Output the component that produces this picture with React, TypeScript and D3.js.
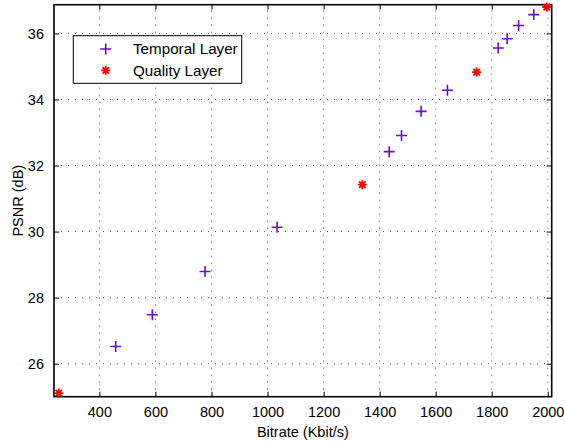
import React, { useEffect, useRef } from "react";
import * as d3 from "d3";

const temporalBitrate = [458, 589, 777, 1034, 1434, 1478, 1548, 1642, 1823, 1855, 1896, 1950];
const temporalPsnr = [26.52, 27.48, 28.79, 30.13, 32.42, 32.91, 33.64, 34.28, 35.56, 35.84, 36.24, 36.57];
const qualityBitrate = [255, 1338, 1746, 1996];
const qualityPsnr = [25.11, 31.42, 34.83, 36.8];
const xTicks = [400, 600, 800, 1000, 1200, 1400, 1600, 1800, 2000];
const yTicks = [26, 28, 30, 32, 34, 36];
const legendLabels = ["Temporal Layer", "Quality Layer"];

const width = 565;
const height = 444;
const FONT = "Liberation Sans, Arial, Helvetica, sans-serif";

const App = () => {
  const ref = useRef<SVGSVGElement>(null);

  useEffect(() => {
    const svg = d3.select(ref.current);
    svg.selectAll("*").remove();

    const left = 54, right = 551.7, top = 4.7, bottom = 396.7;
    const x = d3.scaleLinear().domain([238, 2014]).range([left, right]);
    const y = d3.scaleLinear().domain([25, 36.87]).range([bottom, top]);

    svg.append("rect").attr("width", width).attr("height", height).attr("fill", "white");

    // dotted grid
    const grid = svg.append("g").attr("stroke", "#555").attr("stroke-width", 1).attr("stroke-dasharray", "1,6");
    xTicks.forEach((t) => {
      grid.append("line").attr("x1", x(t)).attr("x2", x(t)).attr("y1", bottom).attr("y2", top);
    });
    yTicks.forEach((t) => {
      grid.append("line").attr("x1", left).attr("x2", right).attr("y1", y(t)).attr("y2", y(t));
    });

    // axes (inward ticks on all sides, box on)
    const tickLen = 5;
    const bottomAxis = svg
      .append("g")
      .attr("transform", `translate(0,${bottom})`)
      .call(d3.axisBottom(x).tickValues(xTicks).tickSize(-tickLen).tickPadding(10).tickFormat(d3.format("d")));
    const leftAxis = svg
      .append("g")
      .attr("transform", `translate(${left},0)`)
      .call(d3.axisLeft(y).tickValues(yTicks).tickSize(-tickLen).tickPadding(10).tickFormat(d3.format("d")));
    const topAxis = svg
      .append("g")
      .attr("transform", `translate(0,${top})`)
      .call(d3.axisTop(x).tickValues(xTicks).tickSize(-tickLen).tickFormat(() => ""));
    const rightAxis = svg
      .append("g")
      .attr("transform", `translate(${right},0)`)
      .call(d3.axisRight(y).tickValues(yTicks).tickSize(-tickLen).tickFormat(() => ""));

    [bottomAxis, leftAxis, topAxis, rightAxis].forEach((a) => {
      a.select(".domain").remove();
      a.selectAll("line").attr("stroke", "#000").attr("stroke-width", 1);
      a.selectAll("text").attr("fill", "#000").attr("font-size", 14.5).attr("font-family", FONT);
    });

    svg
      .append("rect")
      .attr("x", left)
      .attr("y", top)
      .attr("width", right - left)
      .attr("height", bottom - top)
      .attr("fill", "none")
      .attr("stroke", "#000")
      .attr("stroke-width", 1.6);

    // axis labels
    svg
      .append("text")
      .attr("x", (left + right) / 2)
      .attr("y", 437)
      .attr("text-anchor", "middle")
      .attr("font-size", 14.5)
      .attr("font-family", FONT)
      .text("Bitrate (Kbit/s)");
    svg
      .append("text")
      .attr("transform", `translate(23,${(top + bottom) / 2}) rotate(-90)`)
      .attr("text-anchor", "middle")
      .attr("font-size", 14.5)
      .attr("font-family", FONT)
      .text("PSNR (dB)");

    // markers
    const plus = (g: any, cx: number, cy: number, s: number) => {
      g.append("path")
        .attr("d", `M${cx - s},${cy}H${cx + s}M${cx},${cy - s}V${cy + s}`)
        .attr("stroke", "#6a0dcc")
        .attr("stroke-width", 1.6)
        .attr("fill", "none");
    };
    const star = (g: any, cx: number, cy: number, s: number) => {
      const d = s * 0.72;
      g.append("path")
        .attr(
          "d",
          `M${cx - s},${cy}H${cx + s}M${cx},${cy - s}V${cy + s}M${cx - d},${cy - d}L${cx + d},${cy + d}M${cx - d},${cy + d}L${cx + d},${cy - d}`
        )
        .attr("stroke", "#ff0000")
        .attr("stroke-width", 1.8)
        .attr("fill", "none");
    };

    const marks = svg.append("g");
    temporalBitrate.forEach((b, i) => plus(marks, x(b), y(temporalPsnr[i]), 5.5));
    qualityBitrate.forEach((b, i) => star(marks, x(b), y(qualityPsnr[i]), 4.5));

    // legend
    const lg = svg.append("g");
    lg.append("rect")
      .attr("x", 73.3)
      .attr("y", 35.7)
      .attr("width", 168.4)
      .attr("height", 47.6)
      .attr("fill", "white")
      .attr("stroke", "#000")
      .attr("stroke-width", 1);
    plus(lg, 105.7, 49, 5.5);
    star(lg, 105.7, 70.3, 4.5);
    legendLabels.forEach((l, i) => {
      lg.append("text")
        .attr("x", 133)
        .attr("y", 49 + i * 21.3)
        .attr("dy", "0.35em")
        .attr("font-size", 15.2)
        .attr("font-family", FONT)
        .text(l);
    });
  }, []);

  return (
    <svg
      ref={ref}
      width={width}
      height={height}
      style={{ position: "absolute", left: 0, top: 0 }}
    />
  );
};

export default App;
